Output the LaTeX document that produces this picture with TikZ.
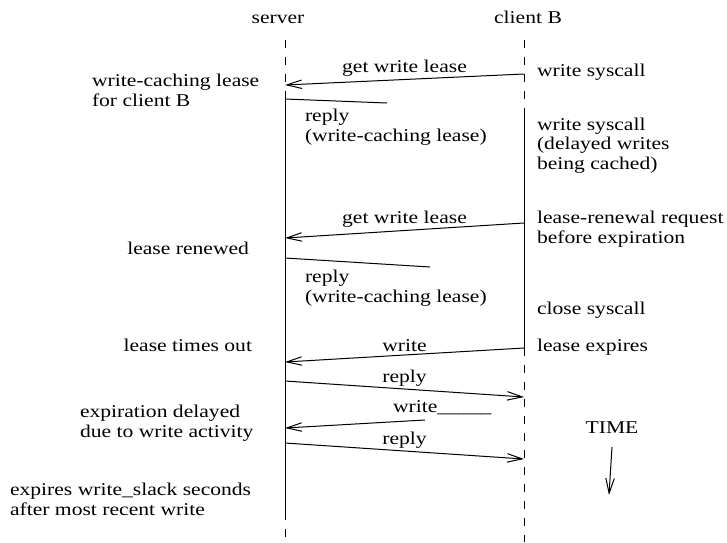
\documentclass[tikz,border=0pt]{standalone}
\usepackage{fontspec}
\setmainfont{Liberation Serif}[FakeStretch=1.2]
\usetikzlibrary{arrows.meta}

\begin{document}
\begin{tikzpicture}[x=1pt, y=-1pt,
        font=\fontsize{18}{19.5}\selectfont,
        every node/.style={inner sep=0pt, outer sep=0pt},
        lifeln/.style={line width=1pt},
        lifedash/.style={lifeln, dash pattern=on 8pt off 9pt},
        msg/.style={line width=1pt, -{Straight Barb[length=15pt,width=8.5pt]}},
        halfmsg/.style={line width=1pt},
        note/.style={align=left, anchor=base west},
        rnote/.style={align=left, anchor=base east},
        msglbl/.style={above=3pt}
    ]
        \useasboundingbox (0,0) rectangle (727,542);

        % --- Lifelines ---
        \node[anchor=base] (srv) at (278,23) {server};
        \node[anchor=base] (cli) at (528,23) {client B};
        \coordinate (sTop) at (285,40);
        \coordinate (sOn)  at (285,99);
        \coordinate (sOff) at (285,512);
        \coordinate (sBot) at (285,542);
        \coordinate (cTop) at (524,40);
        \coordinate (cOn)  at (524,112);
        \coordinate (cOff) at (524,348);
        \coordinate (cBot) at (524,542);
        \draw[lifedash] (sTop) -- (sOn);
        \draw[lifeln]   (sOn) -- (sOff);
        \draw[lifedash] (sOff) -- (sBot);
        \draw[lifedash] (cTop) -- (cOn);
        \draw[lifeln]   (cOn) -- (cOff);
        \draw[lifedash] (cOff) -- (cBot);

        % --- Messages ---
        \coordinate (c1) at (524,74);
        \coordinate (s1) at (285,85);
        \draw[msg] (c1) -- (s1) node[midway, msglbl] {get write lease};
        \coordinate (r1) at (387,103);
        \draw[halfmsg] (sOn) -- (r1);
        \node[note] (rep1) at (305,141) {reply\\(write-caching lease)};

        \coordinate (c2) at (524,223);
        \coordinate (s2) at (285,238);
        \draw[msg] (c2) -- (s2) node[midway, msglbl] {get write lease};
        \coordinate (s3) at (285,258);
        \coordinate (r2) at (430,267);
        \draw[halfmsg] (s3) -- (r2);
        \node[note] (rep2) at (305,302) {reply\\(write-caching lease)};

        \coordinate (c3) at (524,348);
        \coordinate (s4) at (285,362);
        \draw[msg] (c3) -- (s4) node[midway, msglbl] {write};
        \coordinate (s5) at (285,381);
        \coordinate (c4) at (524,397);
        \draw[msg] (s5) -- (c4) node[midway, msglbl] {reply};
        \node[note] (wr2) at (393,412) {write\_\_\_\_\_};
        \coordinate (w2) at (425,420);
        \coordinate (s6) at (285,428);
        \draw[msg] (w2) -- (s6);
        \coordinate (s7) at (285,443);
        \coordinate (c5) at (524,459);
        \draw[msg] (s7) -- (c5) node[midway, msglbl] {reply};

        % --- Server side notes ---
        \node[note] (lease1) at (92,106) {write-caching lease\\for client B};
        \node[rnote] (renew) at (249,254) {lease renewed};
        \node[rnote] (tout) at (252,351) {lease times out};
        \node[note] (delay) at (80,437) {expiration delayed\\due to write activity};
        \node[note] (slack) at (10,515) {expires write\_slack seconds\\after most recent write};

        % --- Client side notes ---
        \node[note] (sys1) at (537,76) {write syscall};
        \node[note] (sys2) at (537,169) {write syscall\\(delayed writes\\being cached)};
        \node[note] (renreq) at (537,243) {lease-renewal request\\before expiration};
        \node[note] (close) at (537,314) {close syscall};
        \node[note] (expr) at (537,351) {lease expires};

        % --- Time axis ---
        \node[anchor=base] (time) at (612,433) {TIME};
        \coordinate (tEnd) at (609,495);
        \draw[msg] ([yshift=-14pt]time.south) -- (tEnd);
    \end{tikzpicture}
\end{document}
